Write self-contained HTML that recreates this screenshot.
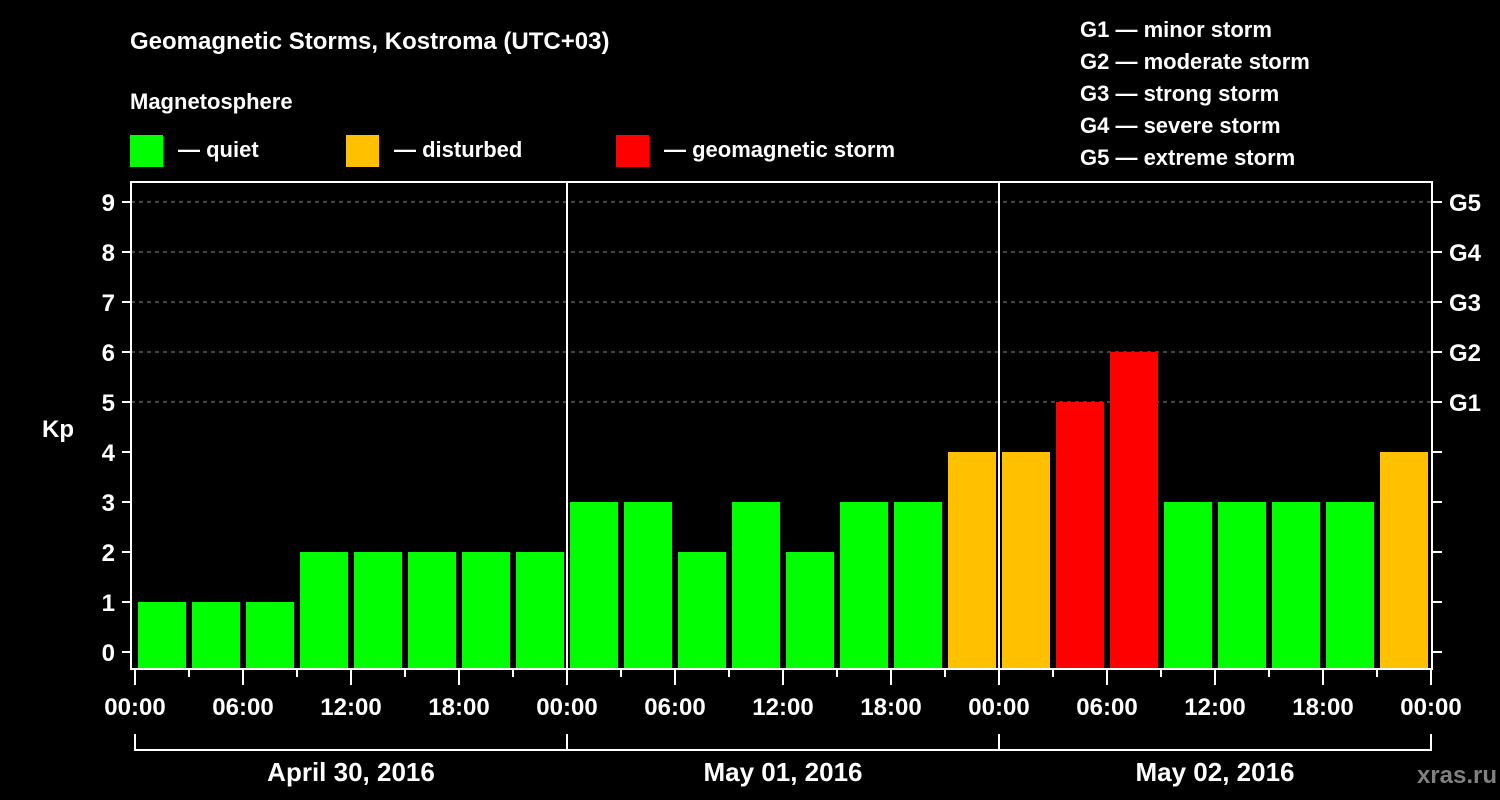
<!DOCTYPE html>
<html><head><meta charset="utf-8"><style>
html,body{margin:0;padding:0;background:#000;}
svg{display:block;font-family:"Liberation Sans",Arial,sans-serif;font-weight:bold;}
</style></head><body>
<svg id="chart" width="1500" height="800" viewBox="0 0 1500 800">
<text x="130" y="49" fill="#fff" font-size="24">Geomagnetic Storms, Kostroma (UTC+03)</text>
<text x="130" y="109" fill="#fff" font-size="22">Magnetosphere</text>
<g><rect x="130" y="135" width="33" height="32" fill="#00ff00"/><text x="178" y="157" fill="#fff" font-size="22">— quiet</text></g>
<g><rect x="346" y="135" width="33" height="32" fill="#ffc000"/><text x="394" y="157" fill="#fff" font-size="22">— disturbed</text></g>
<g><rect x="616" y="135" width="33" height="32" fill="#ff0000"/><text x="664" y="157" fill="#fff" font-size="22">— geomagnetic storm</text></g>
<g fill="#fff" font-size="22">
<text x="1080" y="37">G1 — minor storm</text>
<text x="1080" y="69">G2 — moderate storm</text>
<text x="1080" y="101">G3 — strong storm</text>
<text x="1080" y="133">G4 — severe storm</text>
<text x="1080" y="165">G5 — extreme storm</text>
</g>
<text x="42" y="437" fill="#fff" font-size="24">Kp</text>
<text x="1497" y="783" fill="#808080" font-size="24" text-anchor="end">xras.ru</text>
<g id="grid"></g><g id="bars"></g><g id="axes"></g>
</svg>
<script>
const kpValues = [1,1,1,2,2,2,2,2, 3,3,2,3,2,3,3,4, 4,5,6,3,3,3,3,4];
const yTicks = [0,1,2,3,4,5,6,7,8,9];
const gLabels = ["G1","G2","G3","G4","G5"];
const gLevels = [5,6,7,8,9];
const timeLabels = ["00:00","06:00","12:00","18:00","00:00","06:00","12:00","18:00","00:00","06:00","12:00","18:00","00:00"];
const dayLabels = ["April 30, 2016","May 01, 2016","May 02, 2016"];

const NS="http://www.w3.org/2000/svg";
const X0=135, STEP=54, Y0=652, UNIT=50, LEFT=131, RIGHT=1432, TOP=182, BOT=669;
const xOf = i => X0 + i*STEP;
const yOf = v => Y0 - v*UNIT;
function mk(tag, attrs, parent){const e=document.createElementNS(NS,tag);for(const k in attrs)e.setAttribute(k,attrs[k]);parent.appendChild(e);return e;}
const grid=document.getElementById('grid'), bars=document.getElementById('bars'), axes=document.getElementById('axes');

gLevels.forEach((v,i)=>{
  const l=mk('line',{x1:LEFT,x2:RIGHT,y1:yOf(v),y2:yOf(v),stroke:'#888','stroke-width':1,'stroke-dasharray':'4,4'},grid);
  
  
});

kpValues.forEach((v,i)=>{
  const c = v>=5?'#ff0000':(v===4?'#ffc000':'#00ff00');
  const r=mk('rect',{x:xOf(i)+3,y:yOf(v),width:48,height:BOT-1-yOf(v),fill:c},bars);
  
  
});

// axes box
const frame=mk('path',{d:`M${LEFT},${TOP}H${RIGHT}V${BOT}H${LEFT}Z`,fill:'none',stroke:'#fff','stroke-width':2},axes);


[1,2].forEach(d=>{
  const l=mk('line',{x1:xOf(d*8),x2:xOf(d*8),y1:TOP,y2:BOT,stroke:'#fff','stroke-width':2},axes);
  
  
});
yTicks.forEach(v=>{
  mk('line',{x1:122,x2:LEFT,y1:yOf(v),y2:yOf(v),stroke:'#fff','stroke-width':2},axes);
  mk('line',{x1:RIGHT,x2:1442,y1:yOf(v),y2:yOf(v),stroke:'#fff','stroke-width':2},axes);
  const t=mk('text',{x:115,y:yOf(v)+9,fill:'#fff','font-size':24,'text-anchor':'end'},axes);
  t.textContent=v;
  
  
});
gLabels.forEach((g,i)=>{
  const t=mk('text',{x:1449,y:yOf(gLevels[i])+9,fill:'#fff','font-size':24},axes);
  t.textContent=g;
  
  
});
for(let i=0;i<=24;i++){
  mk('line',{x1:xOf(i),x2:xOf(i),y1:BOT,y2:i%2===0?685:677,stroke:'#fff','stroke-width':2},axes);
}
timeLabels.forEach((s,i)=>{
  const t=mk('text',{x:xOf(i*2),y:715,fill:'#fff','font-size':24,'text-anchor':'middle'},axes);
  t.textContent=s;
  
  
});
const br=mk('path',{d:`M${xOf(0)},734V750H${xOf(24)}V734 M${xOf(8)},734V750 M${xOf(16)},734V750`,fill:'none',stroke:'#fff','stroke-width':2},axes);


dayLabels.forEach((s,i)=>{
  const t=mk('text',{x:xOf(i*8+4),y:781,fill:'#fff','font-size':26,'text-anchor':'middle'},axes);
  t.textContent=s;
  
  
});
</script>
</body></html>
